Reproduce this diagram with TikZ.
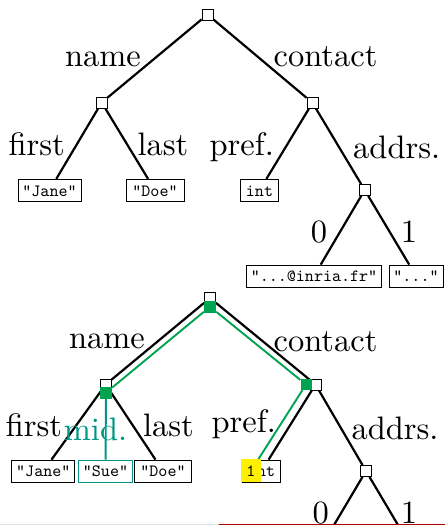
\documentclass[tikz,border=0pt]{standalone}
\usetikzlibrary{backgrounds}
\definecolor{pgreen}{RGB}{0,163,80}
\definecolor{pteal}{RGB}{0,150,130}
\definecolor{pyellow}{RGB}{255,240,0}
\definecolor{pred}{RGB}{175,0,0}
\definecolor{pgrey}{RGB}{226,226,226}
\pgfdeclarelayer{bg}
\pgfsetlayers{bg,main}
\newcommand{\lf}[1]{\scalebox{1.72}{\fontsize{10}{12}\selectfont\ttfamily #1}}
\begin{document}
\begin{tikzpicture}[x=1pt,y=-1pt,
  lbl/.style={scale=3.25, inner sep=0pt, anchor=base, font=\fontsize{10}{12}\selectfont},
  sq/.style={draw, fill=white, minimum size=11pt, inner sep=0pt, line width=0.8pt},
  gsq/.style={fill=pgreen, minimum size=12pt, inner sep=0pt},
  leaf/.style={draw, line width=0.8pt, fill=white,
    inner xsep=4.5pt, inner ysep=1.5pt, text height=15.3pt, text depth=3.7pt},
  edge/.style={line width=2.2pt, black},
  gedge/.style={line width=1.9pt, pgreen},
  tedge/.style={line width=1.9pt, pteal}]
\useasboundingbox (0,0) rectangle (445,525);
% page rules at the bottom
\draw[pgrey, line width=1pt] (0,524.4) -- (219,524.4);
\draw[pred, line width=1pt] (219,524.4) -- (445,524.4);

% ---------- top tree ----------
\node[sq] (r1) at (207.5,14.5) {};
\node[sq] (n1) at (101.7,102.5) {};
\node[sq] (c1) at (312.5,102.8) {};
\node[sq] (a1) at (364.7,190) {};
\node[leaf] (jane1) at (49.5,190.3) {\lf{"Jane"}};
\node[leaf, minimum width=58pt] (doe1) at (155,190.3) {\lf{"Doe"}};
\node[leaf, minimum width=37.6pt] (int1) at (259.5,190.3) {\lf{int}};
\node[leaf] (inria) at (314,276) {\lf{"...@inria.fr"}};
\node[leaf] (dots) at (416,276) {\lf{"..."}};

\node[lbl] (l-name1) at (103,66) {name};
\node[lbl] (l-contact1) at (325.5,66.5) {contact};
\node[lbl] (l-first1) at (36.7,155) {first};
\node[lbl] (l-last1) at (163,155) {last};
\node[lbl] (l-pref1) at (241.7,155) {pref.};
\node[lbl] (l-addrs1) at (396.7,158) {addrs.};
\node[lbl] (l-01) at (319,242) {0};
\node[lbl] (l-11) at (409,242) {1};

% ---------- bottom tree ----------
\node[sq] (r2) at (210,298) {};
\node[sq] (n2) at (105.7,384.5) {};
\node[sq] (c2) at (315.5,384.5) {};
\node[sq] (a2) at (366,471) {};
\node[gsq] (r2g) at (210,306.7) {};
\node[gsq] (n2g) at (106,392.7) {};
\node[gsq, minimum size=11pt] (c2g) at (306,384.5) {};
\node[leaf] (jane2) at (43.3,471) {\lf{"Jane"}};
\node[leaf, draw=pteal] (sue) at (105.5,471) {\lf{"Sue"}};
\node[leaf, minimum width=57.4pt] (doe2) at (163,471) {\lf{"Doe"}};
\node[leaf, minimum width=38.4pt] (int2) at (261.5,471) {\lf{int}};
\node[fill=pyellow, minimum width=19.7pt, minimum height=23pt, inner sep=0pt] (yel) at (251,470.8) {\lf{1}};
\coordinate (b0) at (333.4,526);
\coordinate (b1) at (398.6,526);

\node[lbl] (l-name2) at (107,348.3) {name};
\node[lbl] (l-contact2) at (325.5,351) {contact};
\node[lbl] (l-first2) at (34,436.7) {first};
\node[lbl, text=pteal] (l-mid2) at (95.5,440) {mid.};
\node[lbl] (l-last2) at (168.5,436.7) {last};
\node[lbl] (l-pref2) at (243.7,432) {pref.};
\node[lbl] (l-addrs2) at (395,439.3) {addrs.};
\node[lbl] (l-02) at (320.8,523) {0};
\node[lbl] (l-12) at (409,523) {1};

\begin{pgfonlayer}{bg}
\draw[edge] (r1) -- (n1);
\draw[edge] (r1) -- (c1);
\draw[edge] (n1) -- (jane1);
\draw[edge] (n1) -- (doe1);
\draw[edge] (c1) -- (int1);
\draw[edge] (c1) -- (a1);
\draw[edge] (a1) -- (inria);
\draw[edge] (a1) -- (dots);
\draw[edge] (r2) -- (n2);
\draw[edge] (r2) -- (c2);
\draw[edge] (n2) -- (jane2);
\draw[edge] (n2) -- (doe2);
\draw[edge] (c2) -- (int2);
\draw[edge] (c2) -- (a2);
\draw[edge] (a2) -- (b0);
\draw[edge] (a2) -- (b1);
\draw[gedge] (r2g) -- (n2g);
\draw[gedge] (r2g) -- (c2g);
\draw[gedge] (c2g) -- (yel);
\draw[tedge] (n2g) -- (sue);
\end{pgfonlayer}
\end{tikzpicture}
\end{document}
